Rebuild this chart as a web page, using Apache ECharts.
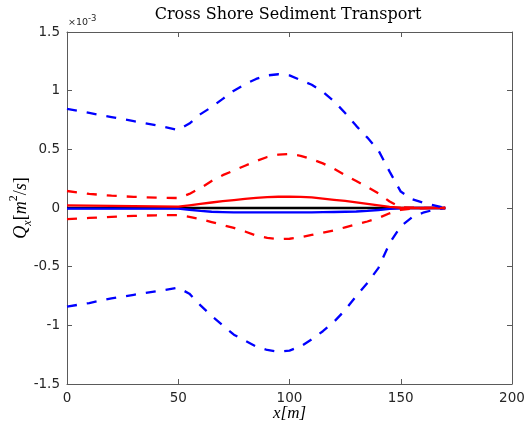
<!DOCTYPE html>
<html><head><meta charset="utf-8">
<script src="https://cdn.jsdelivr.net/npm/echarts@6/dist/echarts.min.js"></script>
<style>html,body{margin:0;padding:0;background:#fff}#c{width:526px;height:429px}</style>
</head><body><div id="c"></div>
<script>
// cross-shore positions x [m]
const xPos = [0,10,20,30,40,50,55,60,65,70,75,80,85,90,95,100,105,110,115,120,125,130,135,140,145,150,155,160,165,170];
// sediment transport Qx, in units of 1e-3 m^2/s
const blueDashUpper = [0.845,0.81,0.775,0.74,0.705,0.665,0.72,0.80,0.86,0.93,1.00,1.055,1.10,1.13,1.14,1.13,1.09,1.05,0.99,0.91,0.81,0.70,0.60,0.49,0.31,0.14,0.075,0.045,0.022,0];
const blueDashLower = [-0.84,-0.81,-0.77,-0.74,-0.71,-0.68,-0.73,-0.83,-0.92,-1.00,-1.08,-1.13,-1.18,-1.21,-1.225,-1.215,-1.18,-1.12,-1.05,-0.97,-0.87,-0.75,-0.64,-0.51,-0.30,-0.155,-0.08,-0.04,-0.015,0];
const redDashUpper = [0.145,0.12,0.105,0.095,0.088,0.085,0.12,0.17,0.23,0.28,0.32,0.36,0.40,0.435,0.455,0.46,0.445,0.415,0.38,0.335,0.28,0.23,0.18,0.125,0.055,0.005,0.003,0.002,0.001,0];
const redDashLower = [-0.095,-0.085,-0.075,-0.067,-0.062,-0.06,-0.075,-0.095,-0.12,-0.145,-0.17,-0.20,-0.235,-0.255,-0.265,-0.262,-0.25,-0.23,-0.21,-0.19,-0.165,-0.14,-0.115,-0.085,-0.045,-0.015,-0.005,-0.002,-0.001,0];
const redSolid = [0.022,0.02,0.018,0.016,0.013,0.011,0.022,0.035,0.047,0.058,0.068,0.078,0.086,0.092,0.096,0.097,0.095,0.09,0.08,0.07,0.06,0.048,0.035,0.022,0.01,0.002,0,0,0,0];
const blueSolid = [-0.005,-0.005,-0.005,-0.005,-0.005,-0.005,-0.015,-0.025,-0.032,-0.036,-0.038,-0.038,-0.038,-0.038,-0.038,-0.038,-0.038,-0.038,-0.036,-0.034,-0.032,-0.03,-0.025,-0.017,-0.008,-0.002,0,0,0,0];
const blackSolid = [0,0,0,0,0,0,0,0,0,0,0,0,0,0,0,0,0,0,0,0,0,0,0,0,0,0,0,0,0,0];
const xTicks = [0,50,100,150,200];
const yTicks = [-1.5,-1,-0.5,0,0.5,1,1.5];

const pair = arr => xPos.map((x,i)=>[x,arr[i]]);
const chart = echarts.init(document.getElementById('c'), null, {renderer:'canvas'});
const axisCol = '#5a5a5a';
const tickFont = {fontFamily:'DejaVu Sans', fontSize:13.5, color:'#262626'};
function mk(name, arr, color, dashed){
  return {name, type:'line', data:pair(arr), showSymbol:false, symbol:'none', smooth:false,
    xAxisIndex:0, yAxisIndex:0, animation:false, z:2,
    lineStyle:{color, width:2.3, type: dashed ? [10,10] : 'solid', cap:'butt', join:'round'}};
}
chart.setOption({
  animation:false,
  backgroundColor:'#fff',
  title:{text:'Cross Shore Sediment Transport', left:288, textAlign:'center', top:7, padding:0,
    textStyle:{fontFamily:'DejaVu Serif', fontSize:16, fontWeight:'normal', color:'#000'}},
  grid:{left:67, right:14, top:32, bottom:45, containLabel:false, outerBoundsMode:'none'},
  xAxis:[
    {type:'value', min:xTicks[0], max:xTicks[xTicks.length-1], interval:50, position:'bottom',
     name:'x[m]', nameLocation:'middle', nameGap:21.5, nameMoveOverlap:false,
     nameTextStyle:{fontFamily:'Liberation Serif', fontStyle:'italic', fontSize:17, color:'#000'},
     axisLine:{show:true, onZero:false, lineStyle:{color:axisCol, width:1}},
     axisTick:{show:true, inside:true, length:5, lineStyle:{color:axisCol}},
     axisLabel:Object.assign({margin:7}, tickFont), splitLine:{show:false}},
    {type:'value', min:xTicks[0], max:xTicks[xTicks.length-1], interval:50, position:'top',
     axisLine:{show:true, onZero:false, lineStyle:{color:axisCol, width:1}},
     axisTick:{show:true, inside:true, length:5, lineStyle:{color:axisCol}},
     axisLabel:{show:false}, splitLine:{show:false}}
  ],
  yAxis:[
    {type:'value', min:yTicks[0], max:yTicks[yTicks.length-1], interval:0.5, position:'left',
     name:'{i|Q}{sub|x}{n|[}{i|m}{sup|2}{n|/}{i|s}{n|]}', nameLocation:'middle', nameGap:33, nameRotate:90, nameMoveOverlap:false,
     nameTextStyle:{rich:{
       i:{fontFamily:'Liberation Serif', fontStyle:'italic', fontSize:18, lineHeight:26, color:'#000'},
       n:{fontFamily:'Liberation Serif', fontSize:18, lineHeight:26, color:'#000'},
       sub:{fontFamily:'Liberation Serif', fontStyle:'italic', fontSize:12, lineHeight:12, verticalAlign:'bottom', color:'#000'},
       sup:{fontFamily:'Liberation Serif', fontSize:12, lineHeight:12, verticalAlign:'top', color:'#000'}
     }},
     axisLine:{show:true, onZero:false, lineStyle:{color:axisCol, width:1}},
     axisTick:{show:true, inside:true, length:5, lineStyle:{color:axisCol}},
     axisLabel:Object.assign({margin:7}, tickFont), splitLine:{show:false}},
    {type:'value', min:yTicks[0], max:yTicks[yTicks.length-1], interval:0.5, position:'right',
     axisLine:{show:true, onZero:false, lineStyle:{color:axisCol, width:1}},
     axisTick:{show:true, inside:true, length:5, lineStyle:{color:axisCol}},
     axisLabel:{show:false}, splitLine:{show:false}}
  ],
  graphic:[
    {type:'text', left:68, top:18, style:{text:'×10', font:'9.5px "DejaVu Sans"', fill:'#262626'}},
    {type:'text', left:88, top:14, style:{text:'-3', font:'8.5px "DejaVu Sans"', fill:'#262626'}}
  ],
  series:[
    mk('black', blackSolid, '#000000', false),
    mk('blueSolid', blueSolid, '#0000ff', false),
    mk('redSolid', redSolid, '#ff0000', false),
    mk('blueDashUpper', blueDashUpper, '#0000ff', true),
    mk('blueDashLower', blueDashLower, '#0000ff', true),
    mk('redDashUpper', redDashUpper, '#ff0000', true),
    mk('redDashLower', redDashLower, '#ff0000', true)
  ]
});
</script></body></html>
